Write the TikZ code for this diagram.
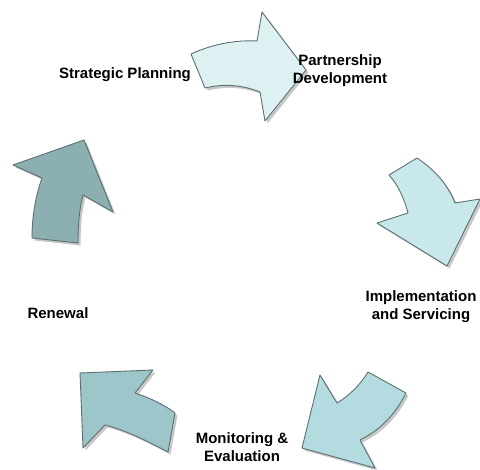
\documentclass[tikz,border=0pt]{standalone}
\usepackage{fontspec}
\setmainfont{Liberation Sans}
\usetikzlibrary{positioning}
\definecolor{pale}{HTML}{DDF1F3}
\definecolor{mist}{HTML}{C9E8EC}
\definecolor{aqua}{HTML}{B4DCE0}
\definecolor{sea}{HTML}{9DC6CA}
\definecolor{slate}{HTML}{8CB0B2}
\definecolor{rim}{HTML}{5C7070}

\tikzset{
  cyclearrow/.style={draw=rim, line width=0.9pt, line join=round, fill=#1,
    preaction={fill=black, opacity=0.22, transform canvas={shift={(2.5pt,-2.5pt)}}}},
  lbl/.style={font=\fontsize{15}{18}\selectfont\bfseries, align=center, inner sep=0pt}
}

\begin{document}
\begin{tikzpicture}[x=1pt,y=-1pt]
\useasboundingbox (0,0) rectangle (480,470);
% arrows, clockwise from the top
\draw[cyclearrow=pale] (191,54) .. controls (215,43) and (238,40) .. (257,41) -- (262,12) -- (306,70)
  -- (265,121) -- (260,92) .. controls (240,84) and (222,84) .. (205,88) -- cycle;
\draw[cyclearrow=mist] (389,175) -- (417,158) .. controls (435,170) and (448,185) .. (455,203) -- (480,199)
  -- (447,266) -- (377,223) -- (408,213) .. controls (404,198) and (398,185) .. (389,175) -- cycle;
\draw[cyclearrow=aqua] (368,372) -- (406,393) .. controls (395,415) and (380,430) .. (360,440) -- (375,468)
  -- (302,448) -- (320,375) -- (337,403) .. controls (350,395) and (360,385) .. (368,372) -- cycle;
\draw[cyclearrow=sea] (80,373) -- (153,370) -- (135,393) .. controls (150,398) and (165,405) .. (175,413)
  -- (168,452) .. controls (145,440) and (125,430) .. (105,425) -- (83,448) -- cycle;
\draw[cyclearrow=slate] (13,165) -- (84,140) -- (113,212) -- (83,195) .. controls (79,210) and (78,228) .. (78,243)
  -- (32,238) .. controls (32,215) and (36,195) .. (42,178) -- cycle;
% stage labels
\node[lbl] (strat) at (125,75) {Strategic Planning};
\node[lbl] (partner) at (340,71) {Partnership\\Development};
\node[lbl] (implement) at (421,307) {Implementation\\and Servicing};
\node[lbl] (monitor) at (242,447) {Monitoring \&\\Evaluation};
\node[lbl] (renew) at (58,313) {Renewal};
\end{tikzpicture}
\end{document}
